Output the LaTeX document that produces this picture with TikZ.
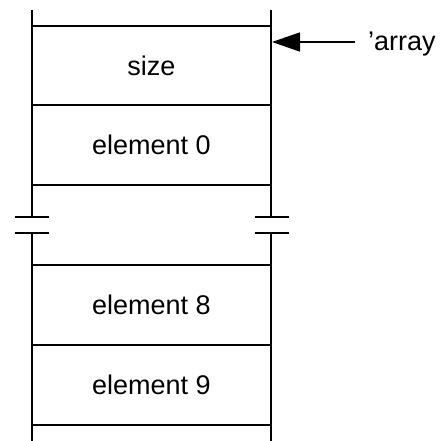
\documentclass[tikz,border=0pt]{standalone}
\usepackage{fontspec}
\setmainfont{Liberation Sans}
\usetikzlibrary{arrows.meta}
\begin{document}
\begin{tikzpicture}[x=1pt,y=-1pt,
  wall/.style={line width=1.8pt},
  cell/.style={font=\fontsize{27}{30}\selectfont, inner sep=0pt},
  lbl/.style={font=\fontsize{27}{30}\selectfont, inner sep=0pt, anchor=west}]
\useasboundingbox (0,0) rectangle (448,441);

% side walls, broken in the middle
\draw[wall] (32,10) -- (32,217) (32,233) -- (32,441);
\draw[wall] (271,10) -- (271,217) (271,233) -- (271,441);
% break marks
\draw[wall] (15,217) -- (49,217) (15,233) -- (49,233);
\draw[wall] (255,217) -- (289,217) (255,233) -- (289,233);
% cell boundaries
\foreach \y in {26,105,185,265,345,425}
  \draw[wall] (32,\y) -- (271,\y);

% cell contents
\node[cell] (size) at (151.5,66) {size};
\node[cell] (e0) at (151.5,145) {element 0};
\node[cell] (e8) at (151.5,305) {element 8};
\node[cell] (e9) at (151.5,385) {element 9};

% pointer to the size slot
\coordinate (tip) at (272,42);
\node[lbl] (arr) at (368,44) {'array};
\coordinate (tail) at (355,42);
\draw[wall, -{Triangle[length=28pt,width=19pt]}] (tail) -- (tip);
\end{tikzpicture}
\end{document}
